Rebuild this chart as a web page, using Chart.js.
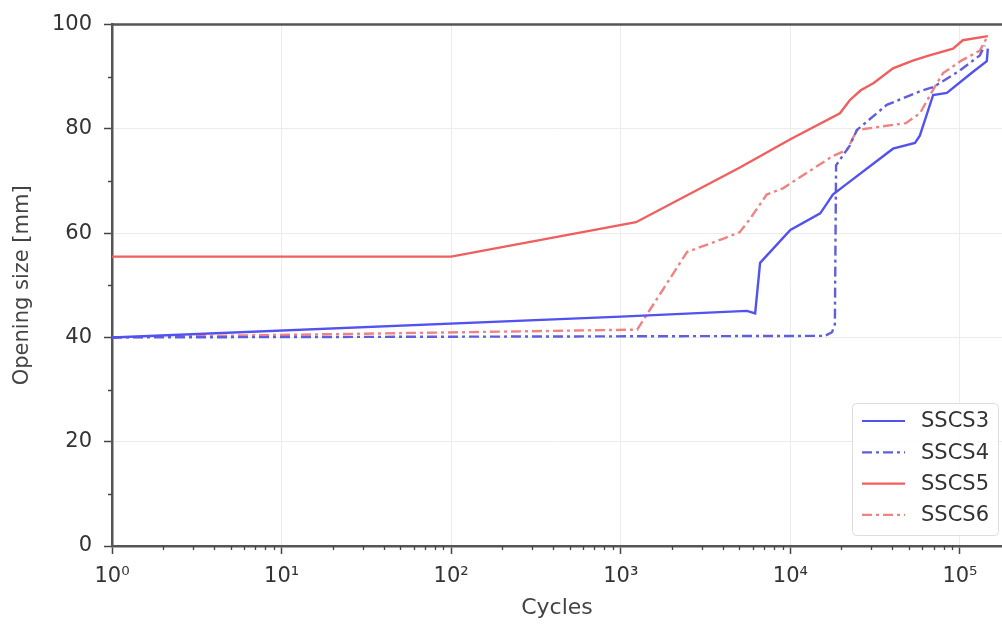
<!DOCTYPE html>
<html>
<head>
<meta charset="utf-8">
<script src="https://cdn.jsdelivr.net/npm/chart.js@4.4.0/dist/chart.umd.min.js"></script>
<style>
  html, body { margin: 0; padding: 0; background: #fff; }
  #wrap { width: 1002px; height: 627px; }
</style>
</head>
<body>
<div id="wrap"><canvas id="opening-chart"></canvas></div>
<script>
// values
const seriesNames = ['SSCS3', 'SSCS4', 'SSCS5', 'SSCS6'];

const sscs3Cycles = [1, 1000, 5550, 6200, 6630, 10000, 15000, 16600, 17800, 22000, 40300, 54300, 58000, 69500, 83700, 119000, 144000, 146000];
const sscs3Size   = [40, 44, 45.1, 44.6, 54.3, 60.6, 63.8, 65.9, 67.4, 69.7, 76.2, 77.3, 78.7, 86.5, 86.9, 90.9, 93, 95.4];

const sscs4Cycles = [1, 16000, 17600, 18300, 18600, 22400, 24700, 37000, 58000, 69500, 100000, 131000, 140000];
const sscs4Size   = [40, 40.3, 41, 42.5, 73, 76.8, 79.8, 84.6, 87.2, 88, 91.2, 94.1, 96];

const sscs5Cycles = [1, 100, 1230, 5040, 10000, 19600, 22400, 26000, 31000, 40300, 52700, 66000, 91000, 104000, 146000];
const sscs5Size   = [55.5, 55.5, 62.1, 72.6, 78, 83, 85.5, 87.4, 88.8, 91.6, 93.1, 94.1, 95.4, 97, 97.8];

const sscs6Cycles = [1, 1250, 2460, 2930, 4000, 5030, 5770, 7250, 9040, 17800, 21600, 24700, 48000, 58100, 72000, 79500, 102000, 131000, 144000];
const sscs6Size   = [40, 41.5, 56.4, 57.3, 58.9, 60.2, 62.7, 67.4, 68.6, 74.8, 76, 79.8, 81.1, 83, 88.4, 90.7, 93.1, 95, 97.5];

const majorTicks = [1, 10, 100, 1000, 10000, 100000];
const yMinorTicks = [10, 30, 50, 70, 90];

const sup = ['\u2070', '\u00B9', '\u00B2', '\u00B3', '\u2074', '\u2075'];

function pts(xs, ys) {
    return xs.map((x, i) => ({ x: x, y: ys[i] }));
}

const blue = '#5252f0';
const blueDash = '#5e5ede';
const red = '#f05e5e';
const redDash = '#f08282';
const dashDot = [10, 4, 3, 4];

const datasets = [
    { label: seriesNames[0], data: pts(sscs3Cycles, sscs3Size), borderColor: blue, borderDash: [] },
    { label: seriesNames[1], data: pts(sscs4Cycles, sscs4Size), borderColor: blueDash, borderDash: dashDot },
    { label: seriesNames[2], data: pts(sscs5Cycles, sscs5Size), borderColor: red, borderDash: [] },
    { label: seriesNames[3], data: pts(sscs6Cycles, sscs6Size), borderColor: redDash, borderDash: dashDot }
];
datasets.forEach(d => {
    d.borderWidth = 2.4;
    d.pointRadius = 0;
    d.tension = 0;
    d.fill = false;
});

// minor ticks, top spine and the in-plot legend
const extras = {
    id: 'extras',
    afterDraw(chart) {
        const ctx = chart.ctx;
        const area = chart.chartArea;
        const xs = chart.scales.x, ys = chart.scales.y;
        ctx.save();
        ctx.strokeStyle = '#444';
        ctx.lineWidth = 1.3;
        ctx.beginPath();
        for (let d = 1; d <= 100000; d *= 10) {
            for (let m = 2; m <= 9; m++) {
                const v = d * m;
                if (v > xs.max) break;
                const px = Math.round(xs.getPixelForValue(v)) + 0.5;
                ctx.moveTo(px, area.bottom);
                ctx.lineTo(px, area.bottom + 4);
            }
        }
        yMinorTicks.forEach(v => {
            const py = Math.round(ys.getPixelForValue(v)) + 0.5;
            ctx.moveTo(area.left, py);
            ctx.lineTo(area.left - 4, py);
        });
        ctx.stroke();

        ctx.strokeStyle = '#555';
        ctx.lineWidth = 2.5;
        ctx.beginPath();
        ctx.moveTo(area.left, area.top);
        ctx.lineTo(area.right, area.top);
        ctx.stroke();

        // legend box
        const bx = area.right - 150, by = area.bottom - 143, bw = 146, bh = 132;
        ctx.fillStyle = 'rgba(255,255,255,0.85)';
        ctx.strokeStyle = '#dddddd';
        ctx.lineWidth = 1;
        ctx.beginPath();
        ctx.roundRect(bx + 0.5, by + 0.5, bw, bh, 4);
        ctx.fill();
        ctx.stroke();
        ctx.font = '21px "DejaVu Sans"';
        ctx.textBaseline = 'middle';
        ctx.fillStyle = '#333';
        datasets.forEach((d, i) => {
            const ly = by + 18 + i * 31.3;
            ctx.strokeStyle = d.borderColor;
            ctx.lineWidth = 2.2;
            ctx.setLineDash(d.borderDash);
            ctx.beginPath();
            ctx.moveTo(bx + 10, ly);
            ctx.lineTo(bx + 53, ly);
            ctx.stroke();
            ctx.setLineDash([]);
            ctx.fillText(d.label, bx + 69, ly + 1);
        });
        ctx.restore();
    }
};

const ctx = document.getElementById('opening-chart').getContext('2d');
new Chart(ctx, {
    type: 'line',
    data: { datasets: datasets },
    plugins: [extras],
    options: {
        responsive: true,
        maintainAspectRatio: false,
        animation: false,
        layout: { padding: { top: 21, right: 0, left: 0, bottom: 0 } },
        plugins: {
            legend: { display: false },
            tooltip: { enabled: false }
        },
        scales: {
            x: {
                type: 'logarithmic',
                min: 1,
                max: 177000,
                afterBuildTicks: scale => {
                    scale.ticks = majorTicks.map(v => ({ value: v }));
                },
                afterFit: scale => { scale.height = 81; },
                ticks: {
                    autoSkip: false,
                    maxRotation: 0,
                    padding: 10,
                    color: '#333',
                    font: { family: 'DejaVu Sans', size: 21 },
                    callback: value => '10' + sup[Math.round(Math.log10(value))]
                },
                grid: {
                    color: '#ececec',
                    lineWidth: 1,
                    tickColor: '#444',
                    tickLength: 8,
                    tickWidth: 1.5
                },
                border: { display: true, color: '#555', width: 2.5 },
                title: {
                    display: true,
                    text: 'Cycles',
                    color: '#444',
                    font: { family: 'DejaVu Sans', size: 22 },
                    padding: { top: 2, bottom: 6 }
                }
            },
            y: {
                min: 0,
                max: 100,
                afterFit: scale => { scale.width = 112; },
                ticks: {
                    stepSize: 20,
                    padding: 12,
                    color: '#333',
                    font: { family: 'DejaVu Sans', size: 21 }
                },
                grid: {
                    color: '#ececec',
                    lineWidth: 1,
                    tickColor: '#444',
                    tickLength: 8,
                    tickWidth: 1.5
                },
                border: { display: true, color: '#555', width: 2.5 },
                title: {
                    display: true,
                    text: 'Opening size [mm]',
                    color: '#444',
                    font: { family: 'DejaVu Sans', size: 21 },
                    padding: { top: 10, bottom: 0 }
                }
            }
        }
    }
});
</script>
</body>
</html>
